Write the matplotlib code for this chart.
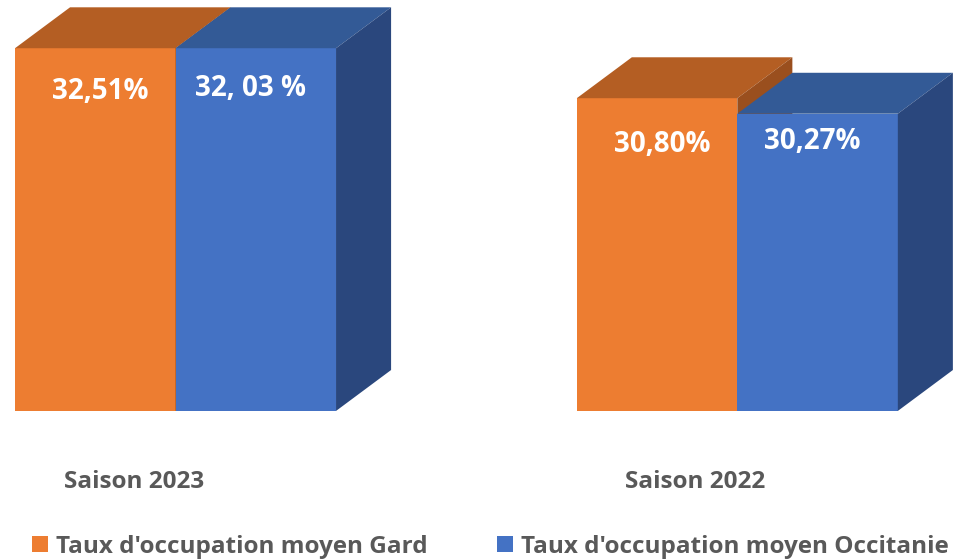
import matplotlib
matplotlib.use("Agg")
import matplotlib.pyplot as plt
from matplotlib.patches import Polygon

# data
seasons = ["Saison 2023", "Saison 2022"]
gard = [32.51, 30.80]
# the 2023 Occitanie bar is drawn at the same height as Gard in the source
occitanie = [32.51, 30.27]
gard_labels = ["32,51%", "30,80%"]
occitanie_labels = ["32, 03 %", "30,27%"]
series_names = ["Taux d'occupation moyen Gard", "Taux d'occupation moyen Occitanie"]

base = 20.1          # floor of the value axis
dx, dy = 0.343, 1.40  # depth of the 3D boxes

orange = ("#ED7D31", "#B45E23", "#9A4F1E")   # front, top, side
blue = ("#4472C4", "#335A96", "#2A477D")
grey = "#595959"


def box(ax, x, value, colors):
  front, top, side = colors
  bars = ax.bar([x], [value - base], bottom=base, width=1, align="edge",
                color=front, linewidth=0)
  ax.add_patch(Polygon([(x, value), (x + dx, value + dy),
                        (x + 1 + dx, value + dy), (x + 1, value)],
                       closed=True, facecolor=top, edgecolor="none"))
  ax.add_patch(Polygon([(x + 1, base), (x + 1 + dx, base + dy),
                        (x + 1 + dx, value + dy), (x + 1, value)],
                       closed=True, facecolor=side, edgecolor="none"))
  return bars


def main():
  fig = plt.figure(figsize=(9.54, 5.6), dpi=100)
  ax = fig.add_axes([0, 0, 1, 1])
  ax.set_xlim(-0.0935, 5.85)
  ax.set_ylim(15.0, 34.16)
  ax.axis("off")

  group_x = [0, 3.5]
  for i, x in enumerate(group_x):
    h_gard = box(ax, x, gard[i], orange)
    h_occ = box(ax, x + 1, occitanie[i], blue)

    label_y = max(gard[i], occitanie[i]) - 1.43 - 0.1 * i
    ax.text(x + 0.53, label_y - 0.04, gard_labels[i], ha="center", va="center",
            color="white", fontsize=20, fontweight="bold", family="Open Sans")
    ax.text(x + 1.47, label_y + 0.04, occitanie_labels[i], ha="center",
            va="center", color="white", fontsize=20, fontweight="bold",
            family="Open Sans")
    ax.text(x + 0.74, base - 2.43, seasons[i], ha="center", va="center",
            color=grey, fontsize=17.5, fontweight="bold", family="Open Sans")

  leg = ax.legend([h_gard, h_occ], series_names, loc="center",
                  bbox_to_anchor=(0.514, 0.024), ncol=2, frameon=False,
                  handlelength=0.66, handleheight=0.66, handletextpad=0.33,
                  columnspacing=2.85,
                  prop={"family": "Open Sans", "weight": "bold", "size": 17.5})
  for t in leg.get_texts():
    t.set_color(grey)

  fig.savefig("out.png", dpi=100)


if __name__ == "__main__":
  main()
